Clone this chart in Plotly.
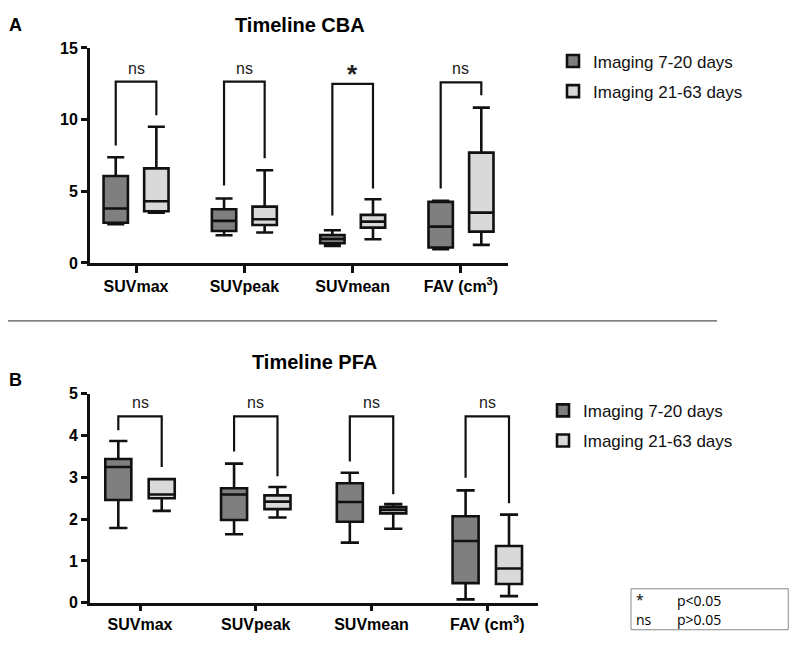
import plotly.graph_objects as go

# figure size chosen so the page fits the 797x648 window;
# window y ~= 15 + 0.9735 * figure y, window x = 8 + figure x
W, H = 781, 632


def fx(x):
    # window pixel -> paper x
    return (x - 8) / W


def fy(y):
    # window pixel -> paper y
    return 1 - ((y - 15) / 0.9735) / H


categories = ["SUVmax", "SUVpeak", "SUVmean", "FAV"]
tick_labels = ["SUVmax", "SUVpeak", "SUVmean", "FAV (cm<sup>3</sup>)"]
groups = ["Imaging 7-20 days", "Imaging 21-63 days"]

# Timeline CBA (min, q1, median, q3, max per parameter)
cba_early_min = [2.7, 1.93, 1.19, 0.95]
cba_early_q1 = [2.8, 2.23, 1.37, 1.07]
cba_early_med = [3.8, 2.93, 1.67, 2.53]
cba_early_q3 = [6.07, 3.74, 1.95, 4.26]
cba_early_max = [7.37, 4.5, 2.28, 4.33]
cba_late_min = [3.5, 2.12, 1.65, 1.26]
cba_late_q1 = [3.6, 2.65, 2.46, 2.18]
cba_late_med = [4.3, 3.05, 2.88, 3.51]
cba_late_q3 = [6.6, 3.93, 3.35, 7.7]
cba_late_max = [9.5, 6.47, 4.44, 10.84]
cba_sig = ["ns", "ns", "*", "ns"]
cba_bracket_top = [12.65, 12.65, 12.5, 12.6]
cba_bracket_left = [8.2, 5.4, 3.3, 5.2]
cba_bracket_right = [10.3, 7.3, 5.2, 11.7]

# Timeline PFA
pfa_early_min = [1.79, 1.64, 1.44, 0.08]
pfa_early_q1 = [2.46, 1.98, 1.94, 0.47]
pfa_early_med = [3.25, 2.59, 2.41, 1.48]
pfa_early_q3 = [3.44, 2.74, 2.86, 2.07]
pfa_early_max = [3.87, 3.33, 3.11, 2.69]
pfa_late_min = [2.2, 2.04, 1.77, 0.16]
pfa_late_q1 = [2.5, 2.24, 2.14, 0.45]
pfa_late_med = [2.59, 2.42, 2.22, 0.82]
pfa_late_q3 = [2.96, 2.57, 2.29, 1.36]
pfa_late_max = [2.96, 2.77, 2.36, 2.11]
pfa_sig = ["ns", "ns", "ns", "ns"]
pfa_bracket_top = [4.46, 4.46, 4.46, 4.46]
pfa_bracket_left = [4.13, 3.62, 3.38, 2.99]
pfa_bracket_right = [3.25, 3.03, 2.6, 2.38]

DARK = "#7f7f7f"
LIGHT = "#d9d9d9"
FONT = "Liberation Sans, Arial, sans-serif"
BOXGAP = 0.25
OFF = (1 - BOXGAP) / 4  # centre offset of each box within a category

fig = go.Figure()


def add_boxes(stats, color, name, xa, ya, legend):
    lo, q1, med, q3, hi = stats
    fig.add_trace(go.Box(
        x=categories, lowerfence=lo, q1=q1, median=med, q3=q3, upperfence=hi,
        name=name, fillcolor=color, line=dict(color="#111", width=2.6),
        whiskerwidth=0.7, boxpoints=False, hoverinfo="skip",
        offsetgroup=name, legendgroup=name + legend, legend=legend,
        xaxis=xa, yaxis=ya,
    ))


add_boxes([cba_early_min, cba_early_q1, cba_early_med, cba_early_q3, cba_early_max],
          DARK, groups[0], "x", "y", "legend")
add_boxes([cba_late_min, cba_late_q1, cba_late_med, cba_late_q3, cba_late_max],
          LIGHT, groups[1], "x", "y", "legend")
add_boxes([pfa_early_min, pfa_early_q1, pfa_early_med, pfa_early_q3, pfa_early_max],
          DARK, groups[0], "x2", "y2", "legend2")
add_boxes([pfa_late_min, pfa_late_q1, pfa_late_med, pfa_late_q3, pfa_late_max],
          LIGHT, groups[1], "x2", "y2", "legend2")

shapes = []
annotations = []


def add_brackets(top, left, right, sig, xref, yref):
    for i in range(len(categories)):
        path = (f"M {i - OFF},{left[i]} L {i - OFF},{top[i]} "
                f"L {i + OFF},{top[i]} L {i + OFF},{right[i]}")
        shapes.append(dict(type="path", path=path, xref=xref, yref=yref,
                           line=dict(color="#111", width=2.2)))
        star = sig[i] == "*"
        annotations.append(dict(
            x=i, y=top[i], xref=xref, yref=yref, text=sig[i], showarrow=False,
            yanchor="bottom", yshift=-7 if star else 3,
            font=dict(family=FONT, size=26 if star else 16, color="#222",
                      weight="bold" if star else "normal"),
        ))


add_brackets(cba_bracket_top, cba_bracket_left, cba_bracket_right, cba_sig, "x", "y")
add_brackets(pfa_bracket_top, pfa_bracket_left, pfa_bracket_right, pfa_sig, "x2", "y2")

# panel titles and letters
for txt, x, y, size in [("Timeline CBA", 300, 24, 20), ("Timeline PFA", 314, 361, 20),
                        ("A", 15, 24, 18), ("B", 15, 379, 18)]:
    annotations.append(dict(x=fx(x), y=fy(y), xref="paper", yref="paper", text=txt,
                            showarrow=False, xanchor="center", yanchor="middle",
                            font=dict(family=FONT, size=size, color="black", weight="bold")))

# separator between the panels
shapes.append(dict(type="line", xref="paper", yref="paper", x0=0, x1=fx(717),
                   y0=fy(320), y1=fy(320), line=dict(color="#555", width=1.2)))

# significance key
shapes.append(dict(type="rect", xref="paper", yref="paper", x0=fx(631), x1=0.999,
                   y0=fy(629), y1=fy(588), line=dict(color="#888", width=1)))
for txt, x, y in [("*", 634, 599), ("p<0.05", 675, 600), ("ns", 634, 619), ("p>0.05", 675, 619)]:
    annotations.append(dict(x=fx(x), y=fy(y), xref="paper", yref="paper", text=txt,
                            showarrow=False, xanchor="left", yanchor="middle",
                            font=dict(family="Open Sans, sans-serif", size=14, color="black")))

axis_common = dict(showline=True, linecolor="#111", linewidth=3, ticks="outside",
                   tickcolor="#111", tickwidth=2.6, showgrid=False, zeroline=False,
                   tickfont=dict(family=FONT, size=16, color="black", weight="bold"))

fig.update_layout(
    width=W, height=H, margin=dict(l=0, r=0, t=0, b=0),
    paper_bgcolor="white", plot_bgcolor="white",
    boxmode="group", boxgap=BOXGAP, boxgroupgap=0.4,
    xaxis=dict(domain=[fx(90), fx(508)], anchor="y", type="category",
               categoryorder="array", categoryarray=categories,
               tickvals=categories, ticktext=tick_labels,
               range=[-0.425, 3.434], ticklen=7, **axis_common),
    yaxis=dict(domain=[fy(262), fy(47)], anchor="x", range=[0, 15],
               tickvals=[0, 5, 10, 15], ticklen=6, **axis_common),
    xaxis2=dict(domain=[fx(90), fx(538)], anchor="y2", type="category",
                categoryorder="array", categoryarray=categories,
                tickvals=categories, ticktext=tick_labels,
                range=[-0.432, 3.438], ticklen=5, **axis_common),
    yaxis2=dict(domain=[fy(602), fy(393)], anchor="x2", range=[0, 5],
                tickvals=[0, 1, 2, 3, 4, 5], ticklen=6, **axis_common),
    legend=dict(x=fx(553), y=fy(42.5), xanchor="left", yanchor="top",
                font=dict(family=FONT, size=17, color="#111"),
                tracegroupgap=5, bgcolor="rgba(0,0,0,0)"),
    legend2=dict(x=fx(543), y=fy(392), xanchor="left", yanchor="top",
                 font=dict(family=FONT, size=17, color="#111"),
                 tracegroupgap=5, bgcolor="rgba(0,0,0,0)"),
    shapes=shapes, annotations=annotations,
)

fig.write_html("out.html")
